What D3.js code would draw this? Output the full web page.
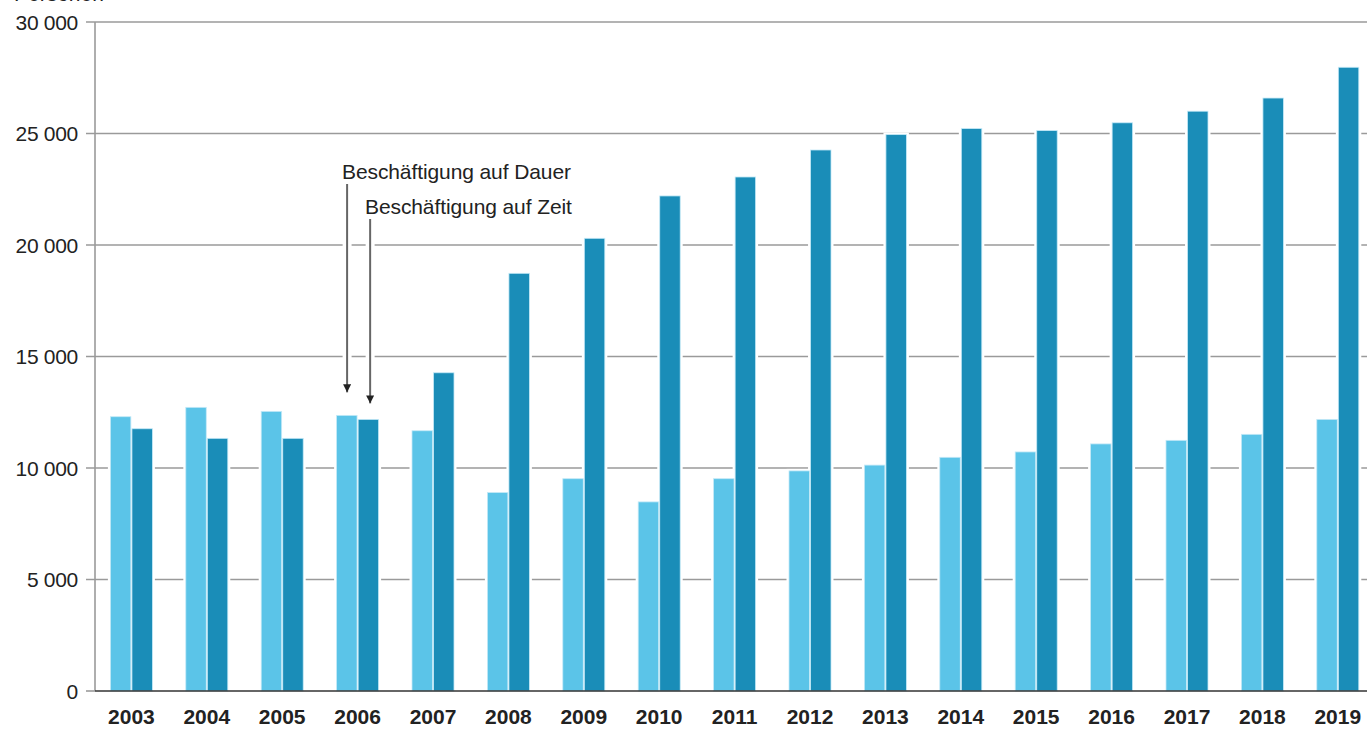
<!DOCTYPE html>
<html>
<head>
<meta charset="utf-8">
<script src="https://cdn.jsdelivr.net/npm/d3@7"></script>
<style>
  body { margin: 0; background: #fff; }
  svg { display: block; font-family: "Liberation Sans", Arial, Helvetica, sans-serif; }
</style>
</head>
<body>
<svg id="chart" width="1367" height="729"></svg>
<script>
// Data
const years = ["2003", "2004", "2005", "2006", "2007", "2008", "2009", "2010", "2011",
               "2012", "2013", "2014", "2015", "2016", "2017", "2018", "2019"];
const dauer = [12300, 12720, 12540, 12360, 11670, 8900, 9520, 8480, 9520,
               9870, 10130, 10480, 10720, 11080, 11240, 11510, 12180];
const zeit = [11760, 11330, 11330, 12180, 14270, 18730, 20300, 22200, 23050,
              24260, 24950, 25220, 25130, 25480, 26000, 26590, 27970];
const seriesKeys = ["dauer", "zeit"];
const seriesColors = ["#5bc4e8", "#1a8db8"];
const yTicks = [0, 5000, 10000, 15000, 20000, 25000, 30000];

const svg = d3.select("#chart");

// Chart area
const margin = { left: 95, top: 22, bottom: 691 };

const y = d3.scaleLinear()
    .domain([0, 30000])
    .range([margin.bottom, margin.top]);

const x = d3.scaleBand()
    .domain(years)
    .range([93.7, 93.7 + 75.4 * years.length])
    .padding(0);

const xInner = d3.scaleBand()
    .domain(seriesKeys)
    .range([-21, 21])
    .paddingInner(0.05);

const color = d3.scaleOrdinal().domain(seriesKeys).range(seriesColors);

const fmt = v => d3.format(",")(v).replace(",", " ");

// Rows for the bars
const rows = [];
years.forEach((yr, i) => {
    rows.push({ year: yr, key: "dauer", value: dauer[i] });
    rows.push({ year: yr, key: "zeit", value: zeit[i] });
});
const barX = d => x(d.year) + x.bandwidth() / 2 + xInner(d.key);

// Gridlines
svg.append("g")
    .selectAll("line")
    .data(yTicks.filter(t => t > 0))
    .enter().append("line")
    .attr("x1", 86)
    .attr("x2", 1367)
    .attr("y1", d => y(d))
    .attr("y2", d => y(d))
    .attr("stroke", "#9a9a9a")
    .attr("stroke-width", 1.6);

// Y axis line
svg.append("line")
    .attr("x1", margin.left).attr("x2", margin.left)
    .attr("y1", y(30000)).attr("y2", y(0))
    .attr("stroke", "#9a9a9a")
    .attr("stroke-width", 1.6);

// Y tick labels
svg.append("g")
    .selectAll("text")
    .data(yTicks)
    .enter().append("text")
    .attr("x", 78)
    .attr("y", d => y(d))
    .attr("dy", "0.36em")
    .attr("text-anchor", "end")
    .attr("font-size", 21)
    .attr("letter-spacing", "-0.3")
    .attr("fill", "#222")
    .text(d => fmt(d));

// Unit label, cut off at the top like in the source
svg.append("text")
    .attr("x", 14)
    .attr("y", 1)
    .attr("font-size", 21)
    .attr("fill", "#222")
    .text("Personen");

// White halos that break the gridlines around bars
svg.append("g")
    .selectAll("rect")
    .data(rows)
    .enter().append("rect")
    .attr("x", d => barX(d) - 2.5)
    .attr("y", d => y(d.value) - 2)
    .attr("width", xInner.bandwidth() + 5)
    .attr("height", d => y(0) - y(d.value) + 2)
    .attr("fill", "#fff");

// Bars
svg.append("g")
    .selectAll("rect")
    .data(rows)
    .enter().append("rect")
    .attr("x", d => barX(d))
    .attr("y", d => y(d.value))
    .attr("width", xInner.bandwidth())
    .attr("height", d => y(0) - y(d.value))
    .attr("fill", d => color(d.key))
    .attr("stroke", "#c4e9f7")
    .attr("stroke-width", 0.8);

// X axis
svg.append("line")
    .attr("x1", 86).attr("x2", margin.left)
    .attr("y1", y(0)).attr("y2", y(0))
    .attr("stroke", "#9a9a9a")
    .attr("stroke-width", 1.6);
svg.append("line")
    .attr("x1", margin.left).attr("x2", 1367)
    .attr("y1", y(0)).attr("y2", y(0))
    .attr("stroke", "#333")
    .attr("stroke-width", 1.6);

svg.append("g")
    .selectAll("text")
    .data(years)
    .enter().append("text")
    .attr("x", d => x(d) + x.bandwidth() / 2)
    .attr("y", 724)
    .attr("text-anchor", "middle")
    .attr("font-size", 21)
    .attr("font-weight", "bold")
    .attr("fill", "#222")
    .text(d => d);

// Annotations pointing at 2006
svg.append("defs").append("marker")
    .attr("id", "arrow")
    .attr("viewBox", "0 0 10 10")
    .attr("refX", 10).attr("refY", 5)
    .attr("markerWidth", 4).attr("markerHeight", 4)
    .attr("orient", "auto")
    .append("path")
    .attr("d", "M0,0L10,5L0,10Z")
    .attr("fill", "#222");

const notes = [
    { key: "dauer", value: dauer[3], label: "Beschäftigung auf Dauer", textX: 342, textY: 179, lineTop: 184, dx: 10.5, gap: 23 },
    { key: "zeit", value: zeit[3], label: "Beschäftigung auf Zeit", textX: 365, textY: 214, lineTop: 219, dx: 12, gap: 16 }
];
const noteX = d => x("2006") + x.bandwidth() / 2 + xInner(d.key) + d.dx;
const noteEnd = d => y(d.value) - d.gap;

const ann = svg.append("g");
ann.selectAll("line.halo")
    .data(notes)
    .enter().append("line")
    .attr("class", "halo")
    .attr("x1", noteX).attr("x2", noteX)
    .attr("y1", d => d.lineTop).attr("y2", noteEnd)
    .attr("stroke", "#fff")
    .attr("stroke-width", 9);
ann.selectAll("line.arrow")
    .data(notes)
    .enter().append("line")
    .attr("class", "arrow")
    .attr("x1", noteX).attr("x2", noteX)
    .attr("y1", d => d.lineTop).attr("y2", noteEnd)
    .attr("stroke", "#666")
    .attr("stroke-width", 2)
    .attr("marker-end", "url(#arrow)");
ann.selectAll("text")
    .data(notes)
    .enter().append("text")
    .attr("x", d => d.textX)
    .attr("y", d => d.textY)
    .attr("font-size", 21)
    .attr("letter-spacing", "-0.1")
    .attr("fill", "#222")
    .text(d => d.label);
</script>
</body>
</html>
